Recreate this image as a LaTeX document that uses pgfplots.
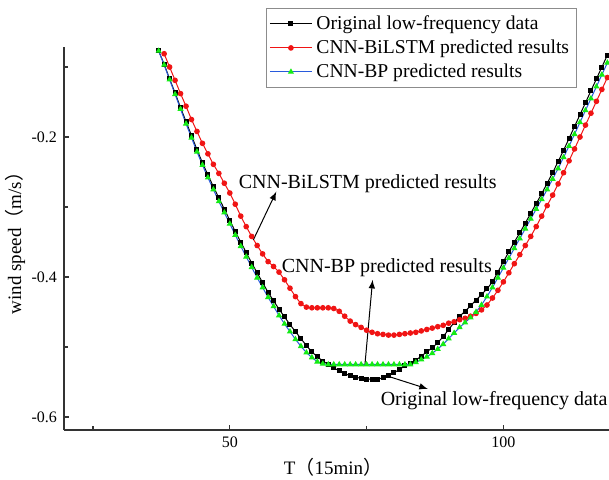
\documentclass[border=0pt]{standalone}
\usepackage{fontspec}
\setmainfont{Liberation Serif}
\newfontfamily\cjk{Noto Sans CJK SC}
\usepackage{pgfplots}
\pgfplotsset{compat=1.18}
\usepackage{pgfplotstable}

\pgfplotstableread{
x y
37 -0.077
38 -0.096
39 -0.117
40 -0.137
41 -0.158
42 -0.178
43 -0.198
44 -0.218
45 -0.237
46 -0.254
47 -0.271
48 -0.287
49 -0.303
50 -0.319
51 -0.335
52 -0.350
53 -0.365
54 -0.380
55 -0.394
56 -0.408
57 -0.422
58 -0.434
59 -0.446
60 -0.457
61 -0.468
62 -0.478
63 -0.488
64 -0.498
65 -0.507
66 -0.514
67 -0.520
68 -0.525
69 -0.530
70 -0.534
71 -0.538
72 -0.541
73 -0.543
74 -0.545
75 -0.546
76 -0.546
77 -0.546
78 -0.544
79 -0.541
80 -0.537
81 -0.532
82 -0.527
83 -0.523
84 -0.519
85 -0.513
86 -0.507
87 -0.501
88 -0.494
89 -0.485
90 -0.475
91 -0.465
92 -0.456
93 -0.449
94 -0.441
95 -0.433
96 -0.425
97 -0.417
98 -0.407
99 -0.393
100 -0.378
101 -0.364
102 -0.350
103 -0.337
104 -0.323
105 -0.309
106 -0.295
107 -0.281
108 -0.266
109 -0.251
110 -0.235
111 -0.219
112 -0.202
113 -0.185
114 -0.168
115 -0.151
116 -0.134
117 -0.117
118 -0.100
119 -0.083
}\original

\pgfplotstableread{
x y
38 -0.081
39 -0.100
40 -0.119
41 -0.138
42 -0.156
43 -0.175
44 -0.192
45 -0.209
46 -0.224
47 -0.239
48 -0.252
49 -0.266
50 -0.280
51 -0.296
52 -0.313
53 -0.328
54 -0.342
55 -0.355
56 -0.367
57 -0.378
58 -0.385
59 -0.393
60 -0.404
61 -0.416
62 -0.428
63 -0.438
64 -0.443
65 -0.444
66 -0.444
67 -0.444
68 -0.444
69 -0.445
70 -0.449
71 -0.456
72 -0.463
73 -0.468
74 -0.472
75 -0.476
76 -0.479
77 -0.481
78 -0.482
79 -0.483
80 -0.483
81 -0.482
82 -0.481
83 -0.480
84 -0.479
85 -0.477
86 -0.475
87 -0.473
88 -0.471
89 -0.469
90 -0.466
91 -0.464
92 -0.461
93 -0.459
94 -0.456
95 -0.452
96 -0.447
97 -0.440
98 -0.430
99 -0.419
100 -0.407
101 -0.394
102 -0.381
103 -0.368
104 -0.355
105 -0.342
106 -0.328
107 -0.313
108 -0.298
109 -0.283
110 -0.267
111 -0.251
112 -0.234
113 -0.217
114 -0.200
115 -0.183
116 -0.166
117 -0.149
118 -0.132
119 -0.115
}\bilstm

\pgfplotstableread{
x y
37 -0.077
38 -0.097
39 -0.118
40 -0.139
41 -0.160
42 -0.181
43 -0.201
44 -0.221
45 -0.240
46 -0.258
47 -0.275
48 -0.292
49 -0.308
50 -0.324
51 -0.340
52 -0.356
53 -0.371
54 -0.386
55 -0.401
56 -0.415
57 -0.429
58 -0.442
59 -0.455
60 -0.467
61 -0.478
62 -0.489
63 -0.499
64 -0.508
65 -0.515
66 -0.521
67 -0.524
68 -0.525
69 -0.525
70 -0.525
71 -0.525
72 -0.525
73 -0.525
74 -0.525
75 -0.525
76 -0.525
77 -0.525
78 -0.525
79 -0.525
80 -0.525
81 -0.525
82 -0.525
83 -0.525
84 -0.522
85 -0.518
86 -0.514
87 -0.509
88 -0.503
89 -0.496
90 -0.488
91 -0.480
92 -0.472
93 -0.465
94 -0.458
95 -0.450
96 -0.440
97 -0.428
98 -0.415
99 -0.401
100 -0.387
101 -0.373
102 -0.359
103 -0.345
104 -0.331
105 -0.317
106 -0.303
107 -0.289
108 -0.275
109 -0.260
110 -0.245
111 -0.229
112 -0.213
113 -0.196
114 -0.179
115 -0.162
116 -0.145
117 -0.128
118 -0.111
119 -0.094
}\bp

\definecolor{myred}{RGB}{240,20,20}
\definecolor{mygreen}{RGB}{20,235,20}
\definecolor{myblue}{RGB}{40,90,220}

\begin{document}
\begin{tikzpicture}
\begin{axis}[
  scale only axis,
  width=272.5pt, height=191.5pt,
  xmin=19.7, xmax=119.3,
  ymin=-0.6186, ymax=-0.0714,
  axis x line*=bottom, axis y line*=left,
  axis line style={line width=0.6pt, color=black!80},
  tick align=inside,
  major tick length=2.5pt, minor tick length=2pt,
  tick style={line width=0.6pt, color=black!80},
  xtick={50,100}, minor xtick={25,75},
  ytick={-0.6,-0.4,-0.2}, minor ytick={-0.5,-0.3,-0.1},
  /pgf/number format/assume math mode=true,
  /pgf/number format/fixed,
  /pgf/number format/precision=1,
  tick label style={font=\fontsize{8}{9.6}\selectfont},
  xlabel={T{\cjk （}15min{\cjk ）}},
  ylabel={wind speed{\cjk （}m/s{\cjk ）}},
  label style={font=\fontsize{9.5}{11}\selectfont},
  xlabel style={at={(axis description cs:0.4936,-0.0966)}, anchor=center},
  ylabel style={at={(axis description cs:-0.0899,0.5)}, anchor=center},
  legend style={at={(rel axis cs:0.3706,1.1018)}, anchor=north west,
    draw=black!45, line width=0.4pt, fill=white,
    font=\fontsize{9.8}{11.5}\selectfont,
    row sep=-0.3pt, inner sep=1.5pt},
  legend cell align=left,
  legend image code/.code={\draw[mark repeat=2,mark phase=2,#1] plot coordinates {(0cm,0cm) (0.37cm,0cm) (0.74cm,0cm)};},
]
\addplot[black, line width=0.5pt, mark=square*, mark size=1.0pt, mark options={fill=black}] table[x=x,y=y]{\original};
\addlegendentry{Original low-frequency data}
\addplot[myred, line width=0.5pt, mark=*, mark size=1.15pt, mark options={fill=myred, draw=myred}] table[x=x,y=y]{\bilstm};
\addlegendentry{CNN-BiLSTM predicted results}
\addplot[myblue, line width=0.5pt, mark=triangle*, mark size=1.3pt, mark options={fill=mygreen, draw=mygreen}] table[x=x,y=y]{\bp};
\addlegendentry{CNN-BP predicted results}

\node[font=\fontsize{10}{12}\selectfont] at (axis cs:75.2,-0.266) {CNN-BiLSTM predicted results};
\draw[-latex, line width=0.5pt] (axis cs:54.3,-0.347) -- (axis cs:58.5,-0.278);
\node[font=\fontsize{10}{12}\selectfont] at (axis cs:78.7,-0.386) {CNN-BP predicted results};
\draw[-latex, line width=0.5pt] (axis cs:74.7,-0.525) -- (axis cs:76.1,-0.404);
\node[font=\fontsize{10}{12}\selectfont] at (axis cs:98.3,-0.576) {Original low-frequency data};
\draw[-latex, line width=0.5pt] (axis cs:79.0,-0.542) -- (axis cs:86.2,-0.560);
\end{axis}
\pgfresetboundingbox
\path[use as bounding box] (-32pt,-24.5pt) rectangle (272.5pt,215pt);
\end{tikzpicture}
\end{document}
